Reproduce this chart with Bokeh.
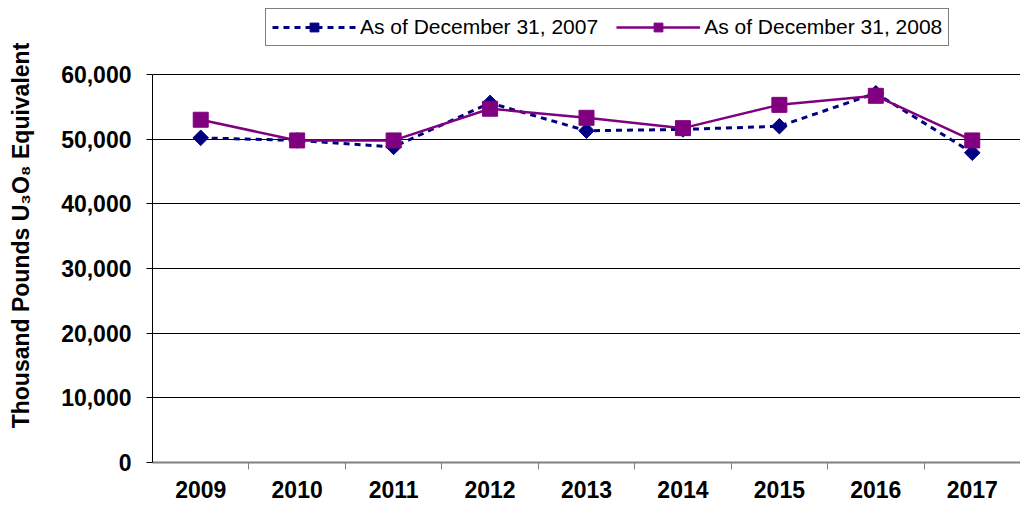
from bokeh.plotting import figure
from bokeh.models import (Range1d, FactorRange, CategoricalAxis, FixedTicker,
                          NumeralTickFormatter, Legend, LegendItem, ColumnDataSource)
from bokeh.embed import file_html
from bokeh.resources import INLINE
import math

years = ["2009", "2010", "2011", "2012", "2013", "2014", "2015", "2016", "2017"]
as_of_2007 = [50200, 49800, 48800, 55600, 51300, 51500, 52000, 57100, 47900]
as_of_2008 = [53000, 49800, 49800, 54700, 53300, 51700, 55300, 56700, 49800]
y_ticks = [0, 10000, 20000, 30000, 40000, 50000, 60000]
label_2007 = "As of December 31, 2007"
label_2008 = "As of December 31, 2008"
y_title = "Thousand Pounds U\u2083O\u2088 Equivalent"

FONT = "Liberation Sans"
Y_TOP = 70200  # headroom above 60,000 for the legend band

p = figure(x_range=years, y_range=Range1d(0, Y_TOP), width=1020, height=501,
           output_backend="svg", toolbar_location=None, x_axis_location=None,
           y_axis_location="left", min_border_left=152, min_border_right=0,
           min_border_top=8, min_border_bottom=39)
p.x_range.range_padding = 0
p.outline_line_color = None
p.background_fill_color = "white"
p.border_fill_color = "white"

# y axis
ya = p.yaxis[0]
ya.ticker = FixedTicker(ticks=y_ticks)
ya.bounds = (0, 60000)
ya.formatter = NumeralTickFormatter(format="0,0")
ya.major_label_text_font = FONT
ya.major_label_text_font_style = "bold"
ya.major_label_text_font_size = "23px"
ya.major_label_text_color = "black"
ya.major_tick_out = 6
ya.major_tick_in = 0
ya.minor_tick_line_color = None
ya.axis_line_color = "black"
ya.major_tick_line_color = "black"
ya.major_label_standoff = 15
ya.axis_label = y_title
ya.axis_label_text_font = FONT
ya.axis_label_text_font_style = "bold"
ya.axis_label_text_font_size = "23px"
ya.axis_label_text_color = "black"
ya.axis_label_standoff = 24

p.ygrid.ticker = FixedTicker(ticks=y_ticks)
p.ygrid.grid_line_color = "black"
p.ygrid.grid_line_width = 1
p.xgrid.grid_line_color = None

# x axis: boundary ticks (shifted factor range) + category labels
edges = ["e%d" % i for i in range(len(years) + 1)]
p.extra_x_ranges = {"edges": FactorRange(factors=edges, range_padding=-0.5,
                                         range_padding_units="absolute")}
tick_axis = CategoricalAxis(x_range_name="edges",
                            major_label_overrides={e: "" for e in edges},
                            major_label_text_font_size="1px",
                            major_label_text_color=None,
                            major_label_standoff=0,
                            major_tick_out=7, major_tick_in=0,
                            minor_tick_line_color=None,
                            axis_line_color="#808080", axis_line_width=2,
                            major_tick_line_color="#808080", major_tick_line_width=1)
p.add_layout(tick_axis, "below")
cat_axis = CategoricalAxis(axis_line_color=None, major_tick_line_color=None,
                           minor_tick_line_color=None,
                           major_label_text_font=FONT,
                           major_label_text_font_style="bold",
                           major_label_text_font_size="23px",
                           major_label_text_color="black",
                           major_label_standoff=5)
p.add_layout(cat_axis, "below")

src = ColumnDataSource(dict(x=years, a=as_of_2007, b=as_of_2008))

l1 = p.line("x", "a", source=src, line_color="#000080", line_width=3, line_dash="6 5")
m1 = p.scatter("x", "a", source=src, marker="square", angle=math.pi / 4, size=11,
               fill_color="#000080", line_color="#000080")
l2 = p.line("x", "b", source=src, line_color="#800080", line_width=2.5)
m2 = p.scatter("x", "b", source=src, marker="square", size=15,
               fill_color="#800080", line_color="#800080")

legend = Legend(items=[LegendItem(label=label_2007, renderers=[l1, m1]),
                       LegendItem(label=label_2008, renderers=[l2, m2])],
                orientation="horizontal", location=(113, 416),
                label_text_font=FONT, label_text_font_size="21px",
                label_text_color="black", label_height=22, glyph_height=22,
                glyph_width=84, label_standoff=4, spacing=18, padding=6,
                border_line_color="black", border_line_width=1,
                background_fill_color="white", margin=0)
p.add_layout(legend, "center")

open("out.html", "w").write(file_html(p, INLINE))
